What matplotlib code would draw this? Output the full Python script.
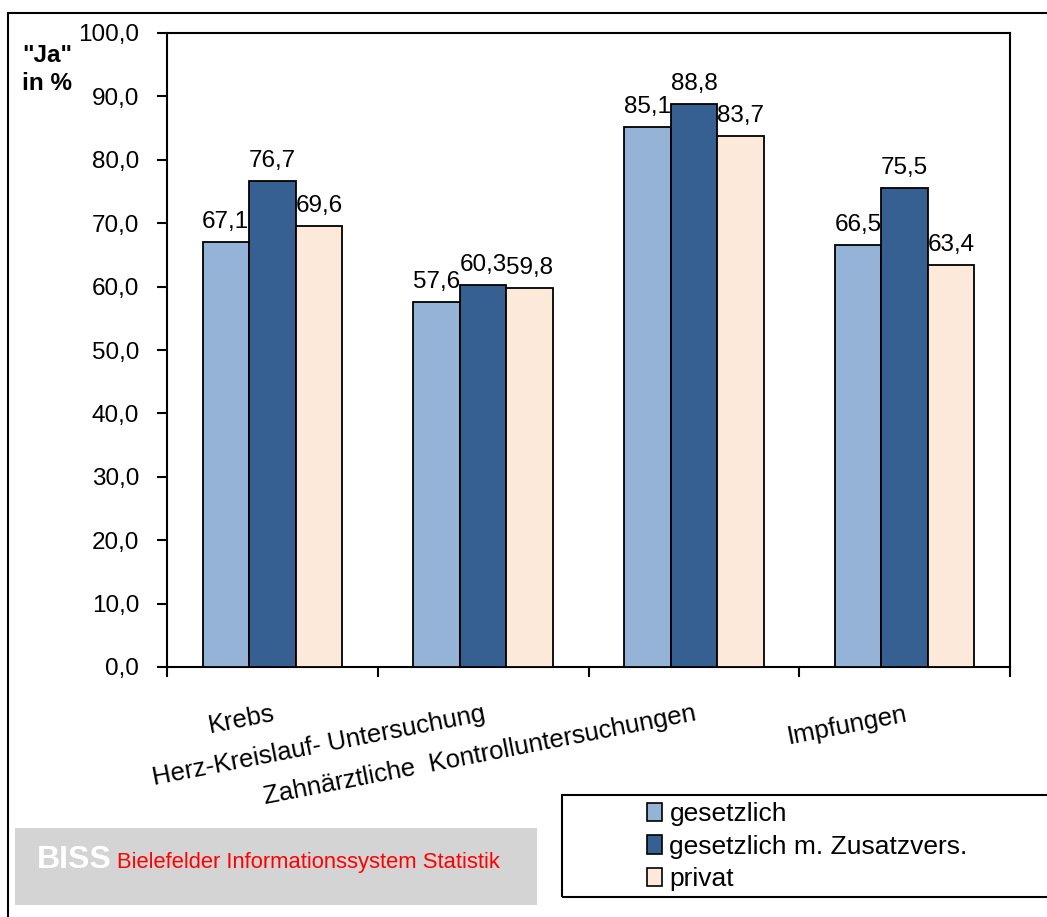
import matplotlib.pyplot as plt
import numpy as np
from matplotlib.patches import Patch, Rectangle

plt.rcParams.update({
    'font.family': ['Liberation Sans', 'DejaVu Sans'],
    'font.size': 16,
    'hatch.linewidth': 0.6,
})

# Daten
kategorien = ['Krebs', 'Herz-Kreislauf- Untersuchung',
              'Zahnärztliche  Kontrolluntersuchungen', 'Impfungen']
serien = ['gesetzlich', 'gesetzlich m. Zusatzvers.', 'privat']
gesetzlich = [67.1, 57.6, 85.1, 66.5]
mit_zusatz = [76.7, 60.3, 88.8, 75.5]
privat = [69.6, 59.8, 83.7, 63.4]
farben = ['#95B3D7', '#366092', '#FDE9D9']

W, H = 1047, 917
fig = plt.figure(figsize=(W / 100, H / 100), dpi=100)
ax = fig.add_axes([167 / W, 1 - 667 / H, (1010 - 167) / W, (667 - 33) / H])

x = np.arange(len(kategorien))
breite = 0.221
for k, (werte, farbe) in enumerate(zip([gesetzlich, mit_zusatz, privat], farben)):
    pos = x + (k - 1) * breite
    ax.bar(pos, werte, width=breite, color=farbe, edgecolor='black',
           linewidth=1.3, zorder=3)
    for xi, v in zip(pos, werte):
        ax.annotate(f'{v:.1f}'.replace('.', ','), (xi, v), xytext=(0, 6.5),
                    textcoords='offset points', ha='center', va='bottom',
                    fontsize=17.5)

# Achsen
ax.set_xlim(-0.5, len(kategorien) - 0.5)
ax.set_ylim(0, 100)
ax.set_yticks(np.arange(0, 101, 10))
ax.set_yticklabels([f'{v:.1f}'.replace('.', ',') for v in np.arange(0, 101, 10)])
ax.tick_params(axis='y', direction='out', length=7, width=1.5, pad=13,
               labelsize=17.5)

ax.set_xticks(x)
ax.set_xticklabels(kategorien, rotation=11, ha='right', va='top',
                   rotation_mode='anchor', fontsize=18.5)
ax.set_xticks(np.arange(-0.5, len(kategorien)), minor=True)
ax.tick_params(axis='x', which='major', length=0, pad=25)
ax.tick_params(axis='x', which='minor', direction='out', length=7, width=1.5)
for s in ax.spines.values():
    s.set_linewidth(1.5)

fig.text(22 / W, 1 - 44 / H, '"Ja"\nin %', fontsize=17.5, fontweight='bold',
         ha='left', va='top', linespacing=1.3)

# Rahmen um die Grafik
fig.patches.append(Rectangle((8 / W, -0.1), 1.2, 1 - 13 / H + 0.1,
                             transform=fig.transFigure, fill=False,
                             edgecolor='black', linewidth=1.5))

# Legende
fig.patches.append(Rectangle((562 / W, 1 - 897 / H), 0.6, 102 / H,
                             transform=fig.transFigure, fill=False,
                             edgecolor='black', linewidth=1.5))
handles = [Patch(facecolor=f, edgecolor='black', linewidth=1.2) for f in farben]
fig.legend(handles, serien, loc='upper left',
           bbox_to_anchor=(647 / W, 1 - 802 / H), frameon=False, fontsize=19,
           handlelength=0.55, handleheight=0.7, handletextpad=0.3,
           labelspacing=0.33, borderpad=0, borderaxespad=0)

# BISS-Logo
fig.patches.append(Rectangle((15 / W, 1 - 905 / H), 522 / W, 77 / H,
                             transform=fig.transFigure, facecolor='#c6c6c6',
                             edgecolor='#d4d4d4', linewidth=0, hatch='+' * 22))
fig.text(37 / W, 1 - 868 / H, 'BISS', color='white', fontsize=23,
         fontweight='bold', ha='left', va='baseline')
fig.text(117 / W, 1 - 868 / H, 'Bielefelder Informationssystem Statistik',
         color='#ff0000', fontsize=15.8, ha='left', va='baseline')

fig.savefig('out.png', dpi=100)
